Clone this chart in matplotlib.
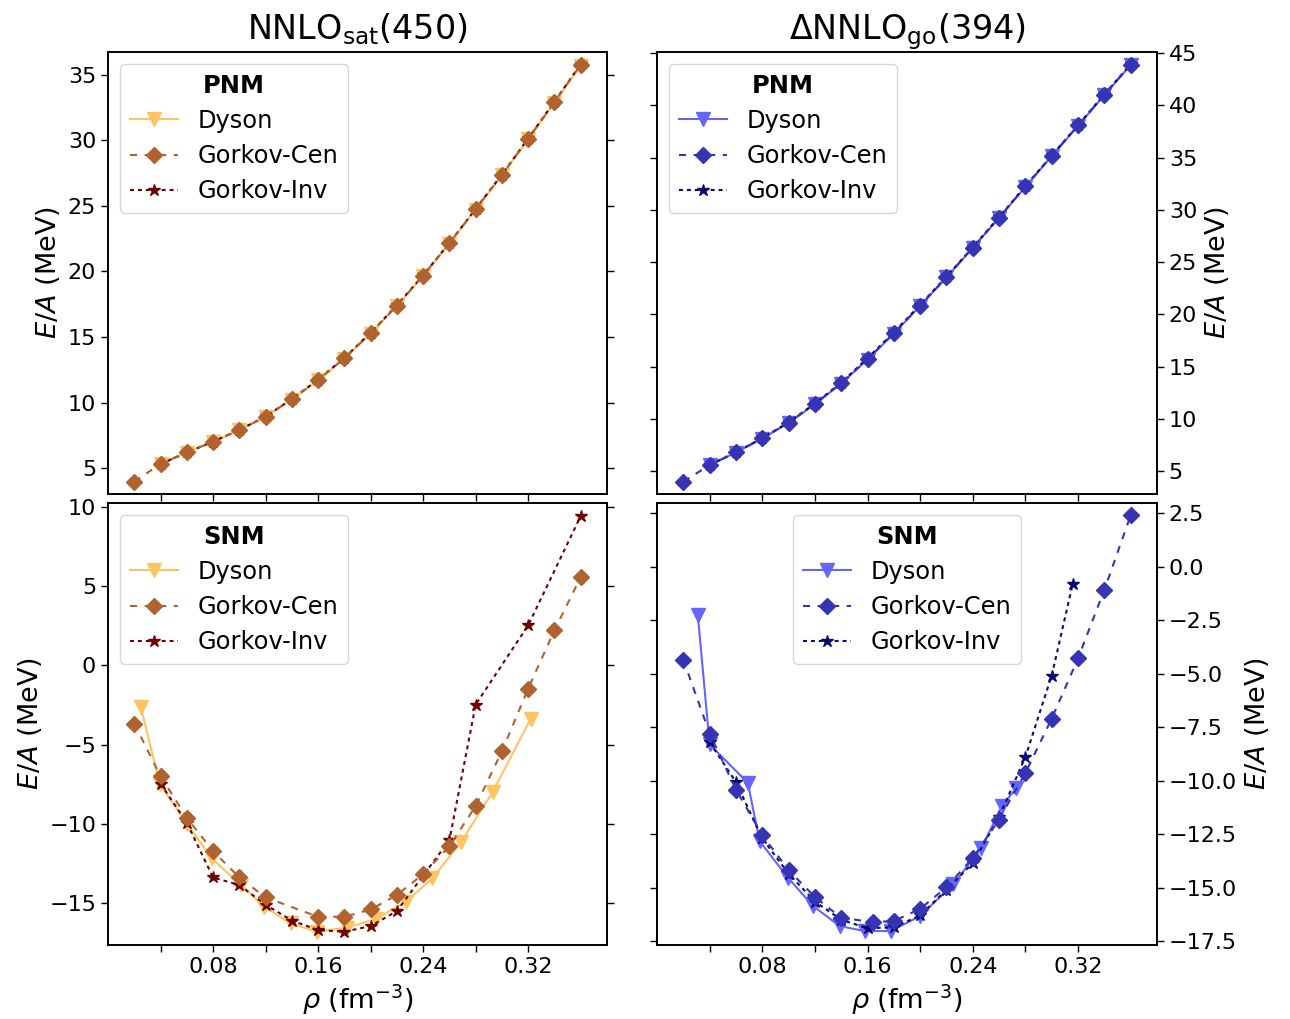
import numpy as np
import matplotlib
matplotlib.use("Agg")
import matplotlib.pyplot as plt
from matplotlib.ticker import MultipleLocator

# ---------------- data ----------------
# density grid of the Gorkov-Cen runs (fm^-3)
rho_grid = [0.02, 0.04, 0.06, 0.08, 0.10, 0.12, 0.14, 0.16, 0.18,
            0.20, 0.22, 0.24, 0.26, 0.28, 0.30, 0.32, 0.34, 0.36]
rho_grid_no2 = rho_grid[1:]

# Pure neutron matter, NNLOsat(450)
pnm_sat_cen = [3.98, 5.33, 6.22, 7.03, 7.92, 8.94, 10.26, 11.73, 13.39,
               15.30, 17.40, 19.69, 22.16, 24.76, 27.37, 30.12, 32.92, 35.76]
pnm_sat_dyson = [5.30, 6.20, 7.02, 7.90, 8.92, 10.24, 11.70, 13.36,
                 15.27, 17.38, 19.66, 22.12, 24.72, 27.33, 30.08, 32.88, 35.70]
pnm_sat_inv = [5.32, 6.21, 7.03, 7.93, 8.95, 10.28, 11.76, 13.42,
               15.33, 17.43, 19.71, 22.18, 24.78, 27.39, 30.14, 32.95, 35.80]

# Pure neutron matter, DeltaNNLOgo(394)
pnm_go_cen = [3.98, 5.57, 6.79, 8.13, 9.63, 11.42, 13.40, 15.70, 18.19,
              20.83, 23.55, 26.39, 29.26, 32.23, 35.17, 38.07, 41.02, 43.89]
pnm_go_dyson = [5.55, 6.77, 8.10, 9.60, 11.40, 13.37, 15.67, 18.15,
                20.80, 23.52, 26.36, 29.22, 32.20, 35.13, 38.03, 40.98, 43.85]
pnm_go_inv = [5.58, 6.80, 8.15, 9.66, 11.46, 13.46, 15.80, 18.28,
              20.90, 23.60, 26.42, 29.30, 32.26, 35.20, 38.10, 41.05, 43.92]

# Symmetric nuclear matter, NNLOsat(450)
snm_sat_cen_rho = [0.02, 0.04, 0.06, 0.08, 0.10, 0.12, 0.16, 0.18, 0.20,
                   0.22, 0.24, 0.26, 0.28, 0.30, 0.32, 0.34, 0.36]
snm_sat_cen = [-3.68, -6.99, -9.62, -11.72, -13.38, -14.64, -15.86, -15.86,
               -15.40, -14.49, -13.17, -11.41, -8.88, -5.42, -1.47, 2.21, 5.57]
snm_sat_dyson_rho = [0.025, 0.0395, 0.060, 0.079, 0.101, 0.119, 0.139, 0.159,
                     0.182, 0.204, 0.227, 0.247, 0.269, 0.293, 0.322]
snm_sat_dyson = [-2.63, -7.50, -9.98, -12.18, -13.86, -15.23, -16.28, -16.80,
                 -16.55, -16.00, -14.90, -13.44, -11.13, -7.98, -3.36]
snm_sat_inv_rho = [0.04, 0.06, 0.08, 0.10, 0.12, 0.14, 0.16, 0.18, 0.20,
                   0.22, 0.26, 0.28, 0.32, 0.36]
snm_sat_inv = [-7.46, -9.93, -13.38, -13.86, -15.10, -16.10, -16.70, -16.80,
               -16.45, -15.50, -11.03, -2.48, 2.52, 9.41]

# Symmetric nuclear matter, DeltaNNLOgo(394)
snm_go_cen_rho = [0.02, 0.04, 0.06, 0.08, 0.10, 0.12, 0.14, 0.164, 0.18,
                  0.20, 0.22, 0.24, 0.26, 0.28, 0.30, 0.32, 0.34, 0.36]
snm_go_cen = [-4.35, -7.80, -10.42, -12.55, -14.18, -15.44, -16.41, -16.61,
              -16.56, -15.99, -14.98, -13.61, -11.82, -9.64, -7.10, -4.29,
              -1.08, 2.39]
snm_go_dyson_rho = [0.031, 0.040, 0.069, 0.078, 0.0996, 0.1186, 0.139, 0.158,
                    0.1776, 0.200, 0.2250, 0.2466, 0.262, 0.2732]
snm_go_dyson = [-2.25, -8.31, -10.10, -12.83, -14.54, -15.86, -16.80, -17.03,
                -17.03, -16.33, -14.85, -13.15, -11.19, -10.34]
snm_go_inv_rho = [0.04, 0.06, 0.08, 0.10, 0.12, 0.14, 0.16, 0.18, 0.20,
                  0.22, 0.24, 0.26, 0.28, 0.30, 0.316]
snm_go_inv = [-8.20, -10.07, -12.70, -14.35, -15.65, -16.50, -16.90, -16.85,
              -16.30, -15.10, -13.85, -11.70, -8.89, -5.09, -0.80]

x_ticks = [0.04, 0.08, 0.12, 0.16, 0.20, 0.24, 0.28, 0.32]
x_ticklabels = ["", "0.08", "", "0.16", "", "0.24", "", "0.32"]

# ---------------- styles ----------------
sat_colors = {"dyson": "#ffc462", "cen": "#b0622f", "inv": "#6e0000"}
go_colors = {"dyson": "#6464ff", "cen": "#3434b4", "inv": "#0a0a6e"}

plt.rcParams["font.family"] = ["DejaVu Sans"]
plt.rcParams["mathtext.fontset"] = "dejavusans"

fig = plt.figure(figsize=(12.9, 10.19), dpi=100)

W, H = 1290.0, 1019.0
def box(x0, y0, x1, y1):
    return [x0 / W, 1 - y1 / H, (x1 - x0) / W, (y1 - y0) / H]

ax_tl = fig.add_axes(box(108, 52, 607, 494))
ax_tr = fig.add_axes(box(657, 52, 1157, 494))
ax_bl = fig.add_axes(box(108, 503, 607, 945))
ax_br = fig.add_axes(box(657, 503, 1157, 945))


def draw(ax, cols, dys, cen, inv, title, legend_loc):
    (xd, yd), (xc, yc), (xi, yi) = dys, cen, inv
    ax.plot(xd, yd, color=cols["dyson"], ls="-", lw=1.5, marker="v",
            ms=10, mec=cols["dyson"], zorder=2, label="Dyson")
    ax.plot(xc, yc, color=cols["cen"], ls=(0, (3.4, 3.6)), lw=1.5,
            marker="D", ms=8.5, mec=cols["cen"], zorder=4, label="Gorkov-Cen")
    ax.plot(xi, yi, color=cols["inv"], ls=(0, (1.9, 1.9)), lw=1.5,
            marker="*", ms=9, mec=cols["inv"], zorder=3, label="Gorkov-Inv")
    leg = ax.legend(loc=legend_loc, fontsize=17.4, title=title,
                    title_fontproperties={"weight": "bold", "size": 17.4},
                    handlelength=2.0, labelspacing=0.46, borderaxespad=0.5)
    return leg


draw(ax_tl, sat_colors,
     (rho_grid_no2, pnm_sat_dyson), (rho_grid, pnm_sat_cen),
     (rho_grid_no2, pnm_sat_inv), "PNM", "upper left")
draw(ax_tr, go_colors,
     (rho_grid_no2, pnm_go_dyson), (rho_grid, pnm_go_cen),
     (rho_grid_no2, pnm_go_inv), "PNM", "upper left")
draw(ax_bl, sat_colors,
     (snm_sat_dyson_rho, snm_sat_dyson), (snm_sat_cen_rho, snm_sat_cen),
     (snm_sat_inv_rho, snm_sat_inv), "SNM", "upper left")
draw(ax_br, go_colors,
     (snm_go_dyson_rho, snm_go_dyson), (snm_go_cen_rho, snm_go_cen),
     (snm_go_inv_rho, snm_go_inv), "SNM", "upper center")

ax_tl.set_ylim(3.04, 36.73)
ax_tr.set_ylim(2.8, 45.1)
ax_bl.set_ylim(-17.64, 10.23)
ax_br.set_ylim(-17.68, 2.97)

ax_tl.yaxis.set_major_locator(MultipleLocator(5))
ax_tr.yaxis.set_major_locator(MultipleLocator(5))
ax_bl.yaxis.set_major_locator(MultipleLocator(5))
ax_br.yaxis.set_major_locator(MultipleLocator(2.5))

for ax in (ax_tl, ax_tr, ax_bl, ax_br):
    ax.set_xlim(0.0, 0.38)
    ax.set_xticks(x_ticks)
    for s in ax.spines.values():
        s.set_linewidth(1.4)
    ax.tick_params(axis="both", which="both", direction="out", length=5,
                   width=1.0, labelsize=16, left=True, right=True,
                   bottom=True, top=False)

for ax in (ax_tl, ax_tr):
    ax.set_xticklabels([])
for ax in (ax_bl, ax_br):
    ax.set_xticklabels(x_ticklabels)
    ax.set_xlabel(r"$\rho$ (fm$^{-3}$)", fontsize=19.5)

for ax in (ax_tr, ax_br):
    ax.yaxis.tick_right()
    ax.yaxis.set_label_position("right")
    ax.tick_params(axis="y", left=True, right=True)

for ax in (ax_tl, ax_tr, ax_bl, ax_br):
    ax.set_ylabel(r"$E/A$ (MeV)", fontsize=19.5)

ax_tl.set_title(r"NNLO$_{\rm sat}$(450)", fontsize=24, pad=9)
ax_tr.set_title(r"$\Delta$NNLO$_{\rm go}$(394)", fontsize=24, pad=9)

fig.savefig("out.png", dpi=100)
